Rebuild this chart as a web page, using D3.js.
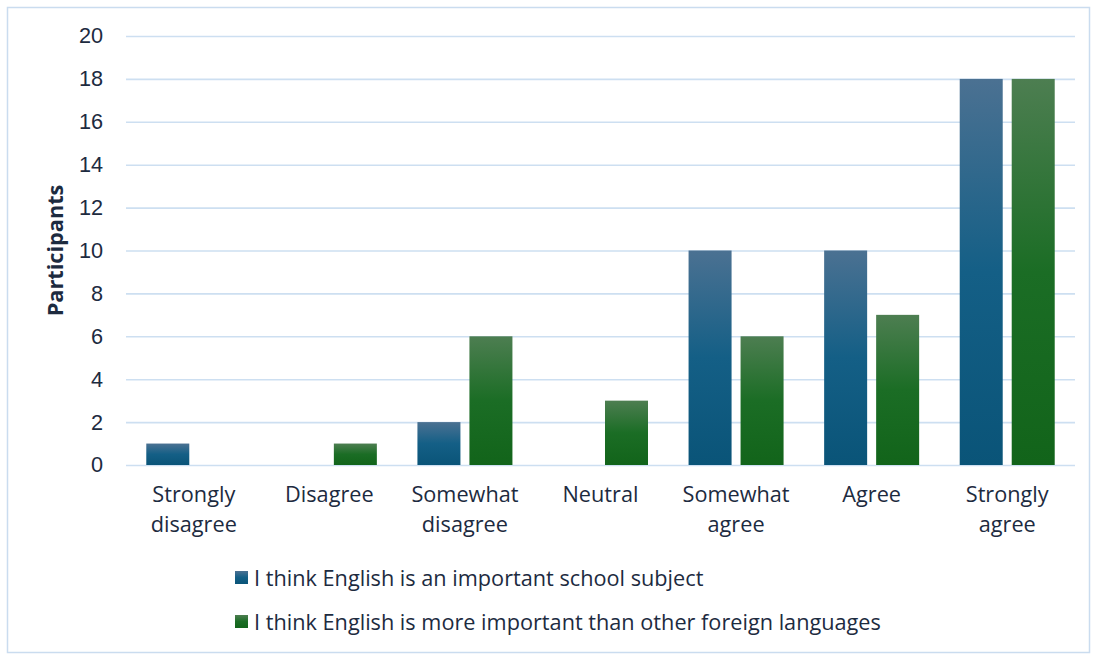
<!DOCTYPE html>
<html>
<head>
<meta charset="utf-8">
<script src="https://cdn.jsdelivr.net/npm/d3@7"></script>
<style>
  html, body { margin: 0; padding: 0; background: #fff; }
  svg { display: block; font-family: "Open Sans", "Noto Sans", sans-serif; }
</style>
</head>
<body>
<svg id="chart" width="1093" height="654"></svg>
<script>
const categories = [
  ["Strongly", "disagree"],
  ["Disagree"],
  ["Somewhat", "disagree"],
  ["Neutral"],
  ["Somewhat", "agree"],
  ["Agree"],
  ["Strongly", "agree"]
];
const seriesNames = [
  "I think English is an important school subject",
  "I think English is more important than other foreign languages"
];
const importantSubject = [1, 0, 2, 0, 10, 10, 18];
const moreImportant = [0, 1, 6, 3, 6, 7, 18];
const yTicks = [0, 2, 4, 6, 8, 10, 12, 14, 16, 18, 20];

const series = [importantSubject, moreImportant];
// each bar shades from a lighter top to a deep base colour
const colors = [
  { top: "#4b7192", mid: "#145f86", bottom: "#0a5478" },
  { top: "#4d7e51", mid: "#1b6d25", bottom: "#12641a" }
];
const FS = 21.7;
const textColor = "#1d2b3f";

const svg = d3.select("#chart");
const W = 1093, H = 654;
const margin = { left: 126, right: 18, top: 36, bottom: 189 };

// outer frame
svg.append("rect")
  .attr("x", 7.5).attr("y", 7.5)
  .attr("width", W - 11).attr("height", H - 9)
  .attr("fill", "#fff").attr("stroke", "#cadcef").attr("stroke-width", 1.5);

const defs = svg.append("defs");
colors.forEach((c, i) => {
  const g = defs.append("linearGradient")
    .attr("id", "grad" + i)
    .attr("x1", 0).attr("y1", 0)
    .attr("x2", 0).attr("y2", 1);
  g.append("stop").attr("offset", "0%").attr("stop-color", c.top);
  g.append("stop").attr("offset", "50%").attr("stop-color", c.mid);
  g.append("stop").attr("offset", "100%").attr("stop-color", c.bottom);
});

const x = d3.scaleBand()
  .domain(d3.range(categories.length))
  .range([margin.left, W - margin.right])
  .paddingInner(0).paddingOuter(0);

const y = d3.scaleLinear().domain([0, 20]).range([H - margin.bottom, margin.top]);

const barW = 43, gap = 9;

// gridlines and tick labels
const yAxis = d3.axisLeft(y).tickValues(yTicks)
  .tickSize(-(W - margin.left - margin.right)).tickPadding(23);
const gAxis = svg.append("g")
  .attr("transform", `translate(${margin.left},0)`)
  .call(yAxis);
gAxis.select(".domain").remove();
gAxis.selectAll(".tick line").attr("stroke", "#cddff1").attr("stroke-width", 1.6);
gAxis.selectAll(".tick text")
  .attr("fill", textColor).attr("font-size", FS);

// bars
series.forEach((vals, s) => {
  svg.append("g").selectAll("rect")
    .data(vals.map((v, i) => ({ v, i })).filter(d => d.v > 0))
    .join("rect")
    .attr("x", d => x(d.i) + x.bandwidth() / 2 + (s === 0 ? -(barW + gap / 2) : gap / 2))
    .attr("y", d => y(d.v))
    .attr("width", barW)
    .attr("height", d => y(0) - y(d.v))
    .attr("fill", `url(#grad${s})`);
});

// category labels
const catG = svg.append("g");
categories.forEach((lines, i) => {
  const cx = x(i) + x.bandwidth() / 2;
  const t = catG.append("text")
    .attr("x", cx)
    .attr("y", 502)
    .attr("text-anchor", "middle")
    .attr("fill", textColor)
    .attr("font-size", FS);
  lines.forEach((ln, k) => {
    t.append("tspan")
      .attr("x", cx)
      .attr("dy", k === 0 ? 0 : 30)
      .text(ln);
  });
});

// axis title
svg.append("text")
  .attr("transform", `translate(63,${(y(0) + y(20)) / 2}) rotate(-90)`)
  .attr("text-anchor", "middle")
  .attr("font-size", FS).attr("font-weight", "bold")
  .attr("fill", textColor)
  .text("Participants");

// legend
const legY = [578, 622];
seriesNames.forEach((name, s) => {
  const g = svg.append("g").attr("transform", `translate(235,${legY[s]})`);
  g.append("rect").attr("x", 0).attr("y", -7).attr("width", 13).attr("height", 13)
    .attr("fill", `url(#grad${s})`);
  g.append("text").attr("x", 19).attr("y", 7.5)
    .attr("font-size", FS).attr("fill", textColor)
    .text(name);
});
</script>
</body>
</html>
